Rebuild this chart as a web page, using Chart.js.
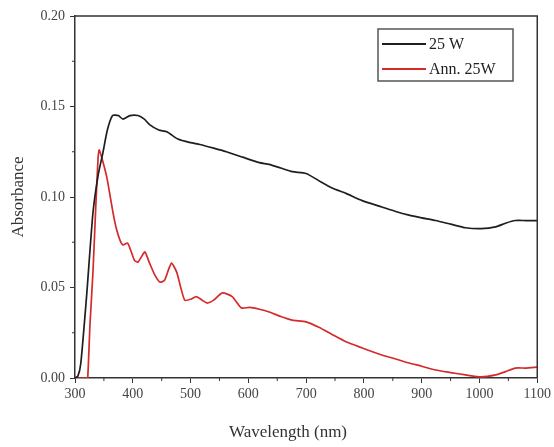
<!DOCTYPE html>
<html>
<head>
<meta charset="utf-8">
<script src="https://cdn.jsdelivr.net/npm/chart.js@4/dist/chart.umd.min.js"></script>
<style>
  html, body { margin: 0; padding: 0; background: #fff; }
  #wrap { width: 554px; height: 447px; }
</style>
</head>
<body>
<div id="wrap"><canvas id="absChart" width="554" height="447"></canvas></div>
<script>
// values
const seriesNames = ['25 W', 'Ann. 25W'];
const xTitle = 'Wavelength (nm)';
const yTitle = 'Absorbance';

const wl25W = [300, 305, 310, 320, 331, 340, 348, 356, 365, 375, 383, 395, 409, 420, 429, 445, 459, 478,
  500, 516, 540, 562, 590, 619, 636, 656, 676, 700, 722, 745, 769, 797, 831, 855, 878, 900, 924, 950,
  976, 1003, 1028, 1045, 1062, 1080, 1100];
const abs25W = [0, 0.001, 0.008, 0.045, 0.091, 0.112, 0.124, 0.137, 0.145, 0.145, 0.143, 0.145, 0.145, 0.143, 0.140, 0.137, 0.136, 0.132,
  0.130, 0.129, 0.127, 0.125, 0.122, 0.119, 0.118, 0.116, 0.114, 0.113, 0.109, 0.105, 0.102, 0.098, 0.0945, 0.092, 0.090, 0.0885, 0.087, 0.085,
  0.083, 0.0825, 0.0835, 0.0855, 0.087, 0.087, 0.087];

const wlAnn = [300, 320, 322, 326, 331, 336, 340, 342, 347, 355, 360, 366, 372, 378, 383, 391, 397, 403, 409, 415,
  421, 429, 438, 447, 455, 462, 467, 476, 483, 490, 500, 510, 520, 529, 540, 555, 572, 588, 602, 619,
  636, 656, 676, 700, 722, 745, 769, 797, 831, 855, 878, 900, 924, 950, 976, 1003, 1028, 1045, 1062, 1080, 1100];
const absAnn = [0, 0, 0, 0.03, 0.058, 0.095, 0.122, 0.126, 0.121, 0.111, 0.102, 0.091, 0.082, 0.076, 0.0735, 0.0745, 0.070, 0.065, 0.064, 0.067,
  0.0696, 0.0635, 0.057, 0.053, 0.054, 0.060, 0.0635, 0.0585, 0.050, 0.043, 0.0435, 0.045, 0.043, 0.0414, 0.043, 0.047, 0.045, 0.0387, 0.039, 0.038,
  0.0365, 0.034, 0.032, 0.031, 0.028, 0.024, 0.020, 0.0166, 0.0127, 0.0105, 0.0083, 0.0065, 0.0044, 0.003, 0.0017, 0.0006, 0.0017, 0.0035, 0.0055, 0.0055, 0.006];

const xMinorTicks = [350, 450, 550, 650, 750, 850, 950, 1050];
const yMinorTicks = [0.025, 0.075, 0.125, 0.175];

const lineColors = ['#1e1e1e', '#d42a2a'];
const serif = 'Liberation Serif';

function toPoints(xs, ys) {
  return xs.map((x, i) => ({ x: x, y: ys[i] }));
}

// frame, minor ticks, x title and the boxed legend inside the plot
const framePlugin = {
  id: 'frame',
  afterDraw(chart) {
    const ctx = chart.ctx;
    const a = chart.chartArea;
    const xs = chart.scales.x, ys = chart.scales.y;
    ctx.save();
    ctx.strokeStyle = '#333';
    ctx.lineWidth = 1.5;
    ctx.beginPath();
    ctx.moveTo(a.left, a.top);
    ctx.lineTo(a.right, a.top);
    ctx.lineTo(a.right, a.bottom);
    ctx.stroke();

    ctx.lineWidth = 1;
    ctx.beginPath();
    xMinorTicks.forEach(v => {
      const px = xs.getPixelForValue(v);
      ctx.moveTo(px, a.bottom);
      ctx.lineTo(px, a.bottom + 3);
    });
    yMinorTicks.forEach(v => {
      const py = ys.getPixelForValue(v);
      ctx.moveTo(a.left, py);
      ctx.lineTo(a.left - 3, py);
    });
    ctx.stroke();

    // x axis title (sits a bit left of centre in the original)
    ctx.fillStyle = '#333';
    ctx.font = '17px "' + serif + '"';
    ctx.textAlign = 'center';
    ctx.textBaseline = 'middle';
    ctx.fillText(xTitle, 288, 433);

    // legend
    ctx.textAlign = 'left';
    ctx.strokeStyle = '#555';
    ctx.lineWidth = 1.5;
    ctx.strokeRect(378, 29, 135, 52);
    ctx.font = '16px "' + serif + '"';
    chart.data.datasets.forEach((ds, i) => {
      const y = 44 + i * 25;
      ctx.strokeStyle = ds.borderColor;
      ctx.lineWidth = 2;
      ctx.beginPath();
      ctx.moveTo(382, y);
      ctx.lineTo(426, y);
      ctx.stroke();
      ctx.fillStyle = '#222';
      ctx.fillText(ds.label, 429, y + 1);
    });
    ctx.restore();
  }
};

const ctx = document.getElementById('absChart').getContext('2d');
new Chart(ctx, {
  type: 'line',
  data: {
    datasets: [
      {
        label: seriesNames[0],
        data: toPoints(wl25W, abs25W),
        borderColor: lineColors[0],
        borderWidth: 1.7,
        pointRadius: 0,
        tension: 0.2
      },
      {
        label: seriesNames[1],
        data: toPoints(wlAnn, absAnn),
        borderColor: lineColors[1],
        borderWidth: 1.7,
        pointRadius: 0,
        tension: 0.2
      }
    ]
  },
  options: {
    responsive: false,
    animation: false,
    layout: { padding: { top: 16, right: 15, left: 0, bottom: 0 } },
    plugins: {
      legend: { display: false },
      tooltip: { enabled: false }
    },
    scales: {
      x: {
        type: 'linear',
        min: 300,
        max: 1100,
        afterFit: s => { s.height = 69; },
        ticks: {
          stepSize: 100,
          padding: 3,
          color: '#444',
          font: { family: serif, size: 14 },
          callback: v => String(v)
        },
        grid: { drawOnChartArea: false, tickLength: 5, color: '#333' },
        border: { color: '#333', width: 1.5 },
        title: { display: false, text: xTitle }
      },
      y: {
        min: 0,
        max: 0.2,
        afterFit: s => { s.width = 75; },
        ticks: {
          stepSize: 0.05,
          padding: 5,
          color: '#444',
          font: { family: serif, size: 14 },
          callback: v => v.toFixed(2)
        },
        grid: { drawOnChartArea: false, tickLength: 5, color: '#333' },
        border: { color: '#333', width: 1.5 },
        title: {
          display: true,
          text: yTitle,
          color: '#333',
          font: { family: serif, size: 17 },
          padding: { top: 8, bottom: 0 }
        }
      }
    }
  },
  plugins: [framePlugin]
});
</script>
</body>
</html>
